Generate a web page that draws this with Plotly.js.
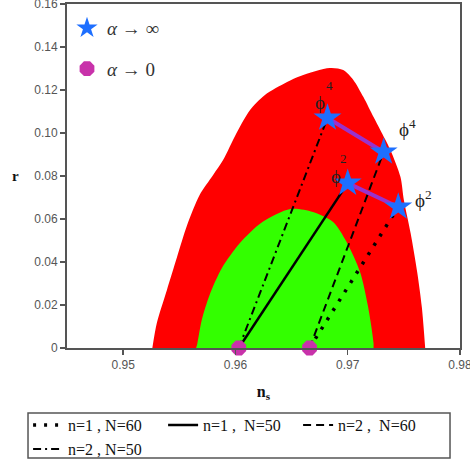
<!DOCTYPE html>
<html>
<head>
<meta charset="utf-8">
<script src="https://cdn.plot.ly/plotly-3.0.1.min.js"></script>
<style>html,body{margin:0;padding:0;background:#fff;}#chart{width:470px;height:464px;}</style>
</head>
<body>
<div id="chart"></div>
<script>
// ---- Data ----
// allowed regions (outline points)
const redX = [0.9526,0.9530,0.9539,0.9548,0.9557,0.9568,0.9580,0.9589,0.9601,0.9613,0.9626,0.9646,0.9658,0.9684,0.9696,0.9705,0.9714,0.9723,0.9729,0.9738,0.9747,0.9750,0.9756,0.9762,0.9766,0.9769];
const redY = [0,0.0116,0.0270,0.0423,0.0572,0.0711,0.0804,0.0874,0.1000,0.1107,0.1176,0.1237,0.1265,0.1302,0.1293,0.1247,0.1167,0.1074,0.1014,0.0921,0.0795,0.0688,0.0535,0.0349,0.0191,0];
const greenX = [0.9565,0.9566,0.9570,0.9577,0.9588,0.9604,0.9624,0.9649,0.9669,0.9687,0.9699,0.9711,0.9718,0.9723,0.9723];
const greenY = [0,0.0019,0.0130,0.0247,0.0372,0.0488,0.0586,0.0647,0.0633,0.0586,0.0493,0.0353,0.0195,0.0023,0];

// alpha -> infinity points: phi^4 (N=50), phi^4 (N=60), phi^2 (N=50), phi^2 (N=60)
const starX = [0.9682, 0.9732, 0.9700, 0.9745];
const starY = [0.1070, 0.0912, 0.0767, 0.0656];
// alpha -> 0 points: N=50, N=60
const hexX = [0.9603, 0.9666];
const hexY = [0, 0];

// model trajectories (alpha -> 0 to alpha -> infinity)
const n1N60X = [0.9666, 0.9745], n1N60Y = [0, 0.0656];
const n1N50X = [0.9603, 0.9700], n1N50Y = [0, 0.0767];
const n2N60X = [0.9666, 0.9732], n2N60Y = [0, 0.0912];
const n2N50X = [0.9603, 0.9682], n2N50Y = [0, 0.1070];
// connectors between the alpha -> infinity points
const phi4LinkX = [0.9682, 0.9732], phi4LinkY = [0.1070, 0.0912];
const phi2LinkX = [0.9700, 0.9745], phi2LinkY = [0.0767, 0.0656];

const seriesNames = ['n=1 , N=60', 'n=1 ,  N=50', 'n=2 ,  N=60', 'n=2 , N=50'];
const markerNames = ['<i>\u03b1</i> \u2192 \u221e', '<i>\u03b1</i> \u2192 0'];

const xTickVals = [0.95, 0.96, 0.97, 0.98];
const xTickText = ['0.95', '0.96', '0.97', '0.98'];
const yTickVals = [0, 0.02, 0.04, 0.06, 0.08, 0.10, 0.12, 0.14, 0.16];
const yTickText = ['0', '0.02', '0.04', '0.06', '0.08', '0.10', '0.12', '0.14', '0.16'];

// ---- Traces ----
const serif = 'Liberation Serif, Times New Roman, serif';
const traces = [
  {x: redX, y: redY, type: 'scatter', mode: 'lines', fill: 'toself', fillcolor: '#FF0000',
   line: {width: 0, color: '#FF0000', shape: 'spline', smoothing: 0.8}, showlegend: false, hoverinfo: 'skip'},
  {x: greenX, y: greenY, type: 'scatter', mode: 'lines', fill: 'toself', fillcolor: '#33FF00',
   line: {width: 0, color: '#33FF00', shape: 'spline', smoothing: 0.8}, showlegend: false, hoverinfo: 'skip'},
  {x: n1N60X, y: n1N60Y, type: 'scatter', mode: 'lines', name: seriesNames[0],
   line: {color: '#000', width: 3.5, dash: '3px,8px'}, legend: 'legend'},
  {x: n1N50X, y: n1N50Y, type: 'scatter', mode: 'lines', name: seriesNames[1],
   line: {color: '#000', width: 2.5}, legend: 'legend'},
  {x: n2N60X, y: n2N60Y, type: 'scatter', mode: 'lines', name: seriesNames[2],
   line: {color: '#000', width: 2, dash: '8px,5px'}, legend: 'legend'},
  {x: n2N50X, y: n2N50Y, type: 'scatter', mode: 'lines', name: seriesNames[3],
   line: {color: '#000', width: 2, dash: '8px,4px,2px,4px'}, legend: 'legend'},
  {x: phi4LinkX, y: phi4LinkY, type: 'scatter', mode: 'lines', showlegend: false,
   line: {color: '#9932CC', width: 4}},
  {x: phi2LinkX, y: phi2LinkY, type: 'scatter', mode: 'lines', showlegend: false,
   line: {color: '#9932CC', width: 4}},
  {x: starX, y: starY, type: 'scatter', mode: 'markers', name: markerNames[0], legend: 'legend2',
   legendgroup: 'inf', marker: {symbol: 'star', size: 21, color: '#1E6FFF'}, cliponaxis: false},
  {x: hexX, y: hexY, type: 'scatter', mode: 'markers', name: markerNames[1], legend: 'legend2',
   legendgroup: 'zero', marker: {symbol: 'octagon', size: 16, color: '#C832AA'}, cliponaxis: false}
];

// ---- Labels for the alpha -> infinity points ----
const labelFont = {family: serif, size: 19, color: '#222'};
const supFont = {family: serif, size: 13, color: '#222'};
const annotations = [
  {x: starX[0], y: starY[0], text: '\u03d5', xshift: -8, yshift: 15, font: labelFont},
  {x: starX[0], y: starY[0], text: '4', xshift: 2, yshift: 32, font: supFont},
  {x: starX[2], y: starY[2], text: '\u03d5', xshift: -12, yshift: 7, font: labelFont},
  {x: starX[2], y: starY[2], text: '2', xshift: -4, yshift: 25, font: supFont},
  {x: starX[1], y: starY[1], text: '\u03d5<sup>4</sup>', xshift: 24, yshift: 24, font: labelFont},
  {x: starX[3], y: starY[3], text: '\u03d5<sup>2</sup>', xshift: 25, yshift: 8, font: labelFont},
  // y-axis title, upright as in the reference
  {xref: 'paper', yref: 'paper', x: -0.132, y: 0.5, xanchor: 'center', text: '<b>r</b>',
   font: {family: serif, size: 15, color: '#111'}}
].map(a => Object.assign({showarrow: false, xref: 'x', yref: 'y'}, a));

const axisCommon = {
  showline: true, linecolor: '#555', linewidth: 2, mirror: true,
  ticks: 'outside', ticklen: 5, tickwidth: 1.5, tickcolor: '#555',
  showgrid: false, zeroline: false, automargin: false, ticklabeloverflow: 'allow',
  tickfont: {family: 'Liberation Sans, Arial, sans-serif', size: 12, color: '#555'}
};

const layout = {
  width: 470, height: 464,
  margin: {l: 67, r: 10, t: 4, b: 116, autoexpand: false},
  paper_bgcolor: '#fff', plot_bgcolor: '#fff',
  xaxis: Object.assign({}, axisCommon, {
    range: [0.945, 0.98], tickmode: 'array', tickvals: xTickVals, ticktext: xTickText,
    title: {text: '<b>n<sub>s</sub></b>', font: {family: serif, size: 16, color: '#111'}, standoff: 14}
  }),
  yaxis: Object.assign({}, axisCommon, {
    range: [0, 0.16], tickmode: 'array', tickvals: yTickVals, ticktext: yTickText
  }),
  legend: {
    orientation: 'h', x: -0.099, xanchor: 'left', y: -0.175, yanchor: 'top', traceorder: 'normal',
    borderwidth: 0, bgcolor: 'rgba(0,0,0,0)', entrywidth: 90, entrywidthmode: 'pixels',
    font: {family: serif, size: 16, color: '#111'}, tracegroupgap: 0
  },
  legend2: {
    x: 0.0, xanchor: 'left', y: 0.985, yanchor: 'top', bgcolor: 'rgba(0,0,0,0)',
    traceorder: 'grouped', tracegroupgap: 13, itemsizing: 'trace',
    font: {family: serif, size: 19, color: '#333'}
  },
  // frame around the lower legend
  shapes: [{type: 'rect', xref: 'paper', yref: 'paper', x0: -0.0992, x1: 0.9746, y0: -0.3198, y1: -0.189,
            line: {color: '#555', width: 1.5}, fillcolor: 'rgba(0,0,0,0)', layer: 'above'}],
  annotations: annotations,
  showlegend: true
};

Plotly.newPlot('chart', traces, layout, {displayModeBar: false, staticPlot: true});
</script>
</body>
</html>
